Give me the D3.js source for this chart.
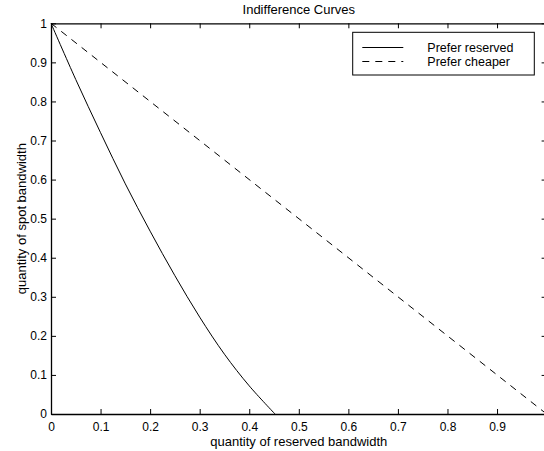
<!DOCTYPE html>
<html>
<head>
<meta charset="utf-8">
<script src="https://cdn.jsdelivr.net/npm/d3@7"></script>
<style>
  body { margin: 0; background: #fff; }
  svg { font-family: "Liberation Sans", Arial, Helvetica, sans-serif; }
</style>
</head>
<body>
<svg id="chart"></svg>
<script>
// values
const reservedX = [0, 0.05, 0.10, 0.15, 0.20, 0.25, 0.30, 0.35, 0.40, 0.452];
const reservedY = [1, 0.856, 0.720, 0.589, 0.468, 0.354, 0.248, 0.153, 0.072, 0];
const cheaperX = [0, 1];
const cheaperY = [1, 0];
const xTicks = [0, 0.1, 0.2, 0.3, 0.4, 0.5, 0.6, 0.7, 0.8, 0.9];
const yTicks = [0, 0.1, 0.2, 0.3, 0.4, 0.5, 0.6, 0.7, 0.8, 0.9, 1];
const legendLabels = ['Prefer reserved', 'Prefer cheaper'];

const width = 544, height = 451;
const plotL = 51, plotR = 546.6, plotT = 23.3, plotB = 414;

const svg = d3.select('#chart')
    .attr('width', width)
    .attr('height', height);

const x = d3.scaleLinear().domain([0, 1]).range([plotL, plotR]);
const y = d3.scaleLinear().domain([0, 1]).range([plotB, plotT]);

const fmt = d => d === 0 ? '0' : d === 1 ? '1' : d3.format('.1f')(d);

// axes, MATLAB style ticks pointing in
svg.append('g')
    .attr('transform', `translate(0,${plotB})`)
    .call(d3.axisBottom(x).tickValues(xTicks).tickSizeInner(-5).tickSizeOuter(0).tickPadding(8).tickFormat(fmt));

svg.append('g')
    .attr('transform', `translate(0,${plotT})`)
    .call(d3.axisTop(x).tickValues(xTicks).tickSizeInner(-5).tickSizeOuter(0).tickFormat(''));

svg.append('g')
    .attr('transform', `translate(${plotL},0)`)
    .call(d3.axisLeft(y).tickValues(yTicks).tickSizeInner(-5).tickSizeOuter(0).tickPadding(4).tickFormat(fmt));

svg.append('g')
    .attr('transform', `translate(${plotR},0)`)
    .call(d3.axisRight(y).tickValues(yTicks).tickSizeInner(-5).tickSizeOuter(0).tickFormat(''));

svg.selectAll('.domain').attr('stroke', '#000').attr('stroke-width', 1.3);
svg.selectAll('.tick line').attr('stroke', '#000');
svg.selectAll('.tick text').attr('font-size', 12).attr('fill', '#000')
    .attr('font-family', '"Liberation Sans", Arial, sans-serif');

// curves
const line = d3.line().x(d => x(d[0])).y(d => y(d[1])).curve(d3.curveCatmullRom);

svg.append('path')
    .datum(reservedX.map((v, i) => [v, reservedY[i]]))
    .attr('d', line)
    .attr('fill', 'none')
    .attr('stroke', '#000')
    .attr('stroke-width', 1);

svg.append('path')
    .datum(cheaperX.map((v, i) => [v, cheaperY[i]]))
    .attr('d', d3.line().x(d => x(d[0])).y(d => y(d[1])))
    .attr('fill', 'none')
    .attr('stroke', '#000')
    .attr('stroke-width', 1)
    .attr('stroke-dasharray', '7,6');

// title and labels
svg.append('text')
    .attr('x', (plotL + plotR) / 2)
    .attr('y', 13.5)
    .attr('text-anchor', 'middle')
    .attr('font-size', 13)
    .text('Indifference Curves');

svg.append('text')
    .attr('x', (plotL + plotR) / 2)
    .attr('y', 445.5)
    .attr('text-anchor', 'middle')
    .attr('font-size', 13)
    .text('quantity of reserved bandwidth');

svg.append('text')
    .attr('transform', `translate(26,${(plotT + plotB) / 2}) rotate(-90)`)
    .attr('text-anchor', 'middle')
    .attr('font-size', 13)
    .text('quantity of spot bandwidth');

// legend
const legend = svg.append('g');
legend.append('rect')
    .attr('x', 352.7).attr('y', 32.3)
    .attr('width', 181.6).attr('height', 42.7)
    .attr('fill', '#fff')
    .attr('stroke', '#000')
    .attr('stroke-width', 1);

legendLabels.forEach((lab, i) => {
    const ly = 47.5 + i * 14;
    legend.append('line')
        .attr('x1', 362.3).attr('x2', 403.3)
        .attr('y1', ly).attr('y2', ly)
        .attr('stroke', '#000')
        .attr('stroke-dasharray', i === 1 ? '7,6' : null);
    legend.append('text')
        .attr('x', 427.3).attr('y', ly + 4.3)
        .attr('font-size', 12.5)
        .text(lab);
});
</script>
</body>
</html>
